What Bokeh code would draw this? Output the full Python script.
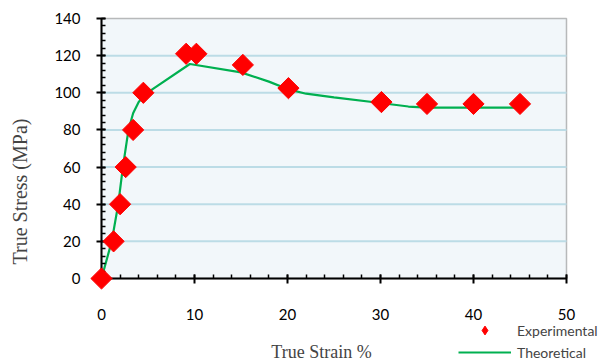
import math
from bokeh.plotting import figure
from bokeh.models import (Range1d, SingleIntervalTicker, Legend, LegendItem, Label,
                          LinearAxis, BoxAnnotation)
from bokeh.embed import file_html
from bokeh.resources import INLINE

# Experimental data
exp_strain = [0, 1.3, 2.0, 2.6, 3.4, 4.5, 9.1, 10.2, 15.2, 20.1, 30.1, 35.0, 40.0, 45.0]
exp_stress = [0, 20, 40, 60, 80, 100, 121, 121, 115, 102.5, 95, 94, 94, 94]

# Theoretical curve
th_strain = [0, 1.1, 1.8, 2.3, 2.9, 3.4, 4.0, 4.6, 5.5, 9.5, 15.0, 18.0, 20.0, 22.0, 25.0, 30.0, 33.0, 35.0, 40.0, 45.0]
th_stress = [0, 20, 40, 60, 80, 89, 95, 98.5, 102, 115.5, 111, 106, 102, 99.5, 97.5, 94.5, 92.6, 92, 92, 92]

x_min, x_max, x_step = 0, 50, 10
y_min, y_max, y_step = 0, 140, 20
grid_values = list(range(y_min + y_step, y_max, y_step))

W, H = 600, 361
# plot-area placement inside the canvas (pixels)
left_px, right_px, top_px, bottom_px = 101, 566, 18, 278

FONT = "Lato"
SERIF = "Liberation Serif"

xs = (right_px - left_px) / (x_max - x_min)
ys = (bottom_px - top_px) / (y_max - y_min)
x_range = Range1d(x_min - left_px / xs, x_max + (W - right_px) / xs)
y_range = Range1d(y_min - (H - bottom_px) / ys, y_max + top_px / ys)

p = figure(width=W, height=H, output_backend="svg", toolbar_location=None,
           x_range=x_range, y_range=y_range,
           x_axis_location=None, y_axis_location=None)
p.min_border = 0
p.min_border_left = 0
p.min_border_right = 0
p.min_border_top = 0
p.min_border_bottom = 0
p.background_fill_color = "white"
p.border_fill_color = "white"
p.outline_line_color = None
p.grid.visible = False

# plot area background + frame
p.add_layout(BoxAnnotation(left=x_min, right=x_max, bottom=y_min, top=y_max,
                           fill_color="#F2F7FA", fill_alpha=1,
                           line_color="#222222", line_width=1.5, level="image"))

# horizontal gridlines
p.segment(x0=[x_min] * len(grid_values), x1=[x_max] * len(grid_values),
          y0=grid_values, y1=grid_values, line_color="#BCDCE6", line_width=2)

xaxis = LinearAxis(fixed_location=y_min, bounds=(x_min, x_max),
                   ticker=SingleIntervalTicker(interval=x_step, num_minor_ticks=5))
yaxis = LinearAxis(fixed_location=x_min, bounds=(y_min, y_max),
                   ticker=SingleIntervalTicker(interval=y_step, num_minor_ticks=5))
for ax in (xaxis, yaxis):
    ax.axis_line_color = "black"
    ax.axis_line_width = 2
    ax.major_tick_line_color = "black"
    ax.major_tick_line_width = 2
    ax.minor_tick_line_color = "black"
    ax.minor_tick_line_width = 1.5
    ax.major_tick_in = 4
    ax.major_tick_out = 5
    ax.minor_tick_in = 4
    ax.minor_tick_out = 0
    ax.major_label_text_font = FONT
    ax.major_label_text_font_size = "15px"
    ax.major_label_text_color = "black"
xaxis.major_label_standoff = 25
yaxis.major_label_standoff = 16
p.add_layout(xaxis, "below")
p.add_layout(yaxis, "left")

line = p.line(th_strain, th_stress, line_color="#00B050", line_width=2.2)
pts = p.scatter(exp_strain, exp_stress, marker="square", angle=math.pi / 4,
                size=15, fill_color="red", line_color="red", level="overlay")
# legend-only glyph (a diamond, since the legend does not rotate markers)
legend_pts = p.scatter(x=[float("nan")], y=[float("nan")], marker="diamond",
                       fill_color="red", line_color="red")

legend = Legend(items=[LegendItem(label="Experimental", renderers=[legend_pts]),
                       LegendItem(label="Theoretical", renderers=[line])],
                location=(458, -2), padding=0, margin=0, spacing=0,
                glyph_width=53, glyph_height=22, label_height=20,
                label_standoff=6, label_text_font=FONT, label_text_font_size="14px",
                border_line_color=None, background_fill_alpha=0)
p.add_layout(legend, "center")

p.add_layout(Label(x=321, y=H - 351, x_units="screen", y_units="screen", text="True Strain %",
                   text_font=SERIF, text_font_size="18px", text_align="center",
                   text_baseline="middle"))
p.add_layout(Label(x=19, y=H - 191, x_units="screen", y_units="screen", text="True Stress (MPa)",
                   angle=math.pi / 2, text_font=SERIF, text_font_size="20px",
                   text_align="center", text_baseline="middle"))

open("out.html", "w").write(file_html(p, INLINE))
